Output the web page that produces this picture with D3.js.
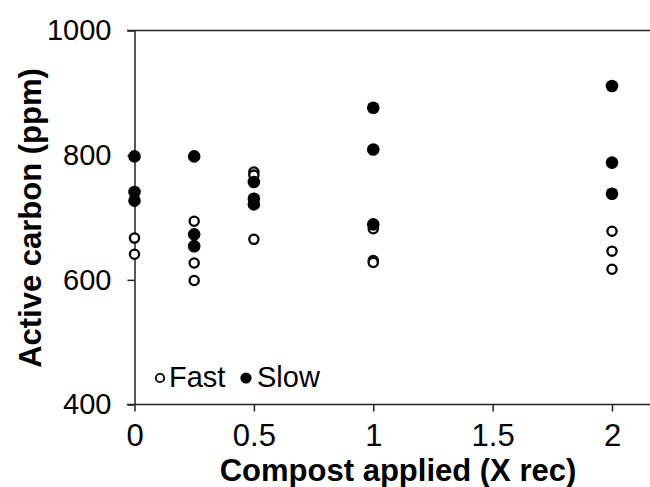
<!DOCTYPE html>
<html>
<head>
<meta charset="utf-8">
<script src="https://cdn.jsdelivr.net/npm/d3@7"></script>
<style>
  html, body { margin: 0; padding: 0; background: #fff; }
  svg { display: block; font-family: "Liberation Sans", Arial, Helvetica, sans-serif; }
</style>
</head>
<body>
<svg id="chart" width="650" height="487"></svg>
<script>
// ---- data ----
const fastDose = [0, 0, 0.25, 0.25, 0.25, 0.5, 0.5, 0.5, 1, 1, 1, 2, 2, 2];
const fastCarbon = [667, 641, 694, 627, 599, 773, 768, 665, 682, 631, 628, 678, 646, 617];
const slowDose = [0, 0, 0, 0.25, 0.25, 0.25, 0.5, 0.5, 0.5, 1, 1, 1, 2, 2, 2];
const slowCarbon = [798, 741, 727, 798, 673, 654, 757, 730, 721, 876, 809, 689, 911, 788, 738];
const xTicks = [0, 0.5, 1, 1.5, 2];
const yTicks = [400, 600, 800, 1000];
const seriesNames = ["Fast", "Slow"];

const svg = d3.select("#chart");
const x = d3.scaleLinear().domain([0, 2]).range([134.5, 612]);
const y = d3.scaleLinear().domain([400, 1000]).range([404.5, 30.5]);
const axisColor = "#222";

// top border line
svg.append("line")
  .attr("x1", 127).attr("x2", 650)
  .attr("y1", y(1000)).attr("y2", y(1000))
  .attr("stroke", axisColor).attr("stroke-width", 1.5);

// y axis
const yAxis = svg.append("g")
  .attr("transform", `translate(${x(0)},0)`)
  .call(d3.axisLeft(y).tickValues(yTicks).tickSize(7).tickSizeOuter(0).tickPadding(16).tickFormat(d3.format("d")));
yAxis.select(".domain").attr("stroke", axisColor).attr("stroke-width", 1.5);
yAxis.selectAll(".tick line").attr("stroke", axisColor).attr("stroke-width", 1.5);
yAxis.selectAll(".tick text")
  .attr("font-size", 29).attr("fill", "#000")
  .attr("font-family", "Liberation Sans, Arial, sans-serif");

// x axis
const xAxis = svg.append("g")
  .attr("transform", `translate(0,${y(400)})`)
  .call(d3.axisBottom(x).tickValues(xTicks).tickSize(7).tickSizeOuter(0).tickPadding(12).tickFormat(d => d3.format("")(d)));
xAxis.select(".domain").remove();
xAxis.insert("line", ":first-child")
  .attr("x1", 127).attr("x2", 650).attr("y1", 0).attr("y2", 0)
  .attr("stroke", axisColor).attr("stroke-width", 1.5);
xAxis.selectAll(".tick line").attr("stroke", axisColor).attr("stroke-width", 1.5);
xAxis.selectAll(".tick text")
  .attr("font-size", 31).attr("fill", "#000")
  .attr("font-family", "Liberation Sans, Arial, sans-serif");

// axis titles
svg.append("text")
  .attr("transform", `translate(41,${(30 + 404) / 2 + 1}) rotate(-90)`)
  .attr("text-anchor", "middle")
  .attr("font-size", 31).attr("font-weight", "bold")
  .text("Active carbon (ppm)");
svg.append("text")
  .attr("x", 398).attr("y", 481)
  .attr("text-anchor", "middle")
  .attr("font-size", 31).attr("font-weight", "bold")
  .text("Compost applied (X rec)");

// points
const fastData = fastDose.map((d, i) => ({ x: d, y: fastCarbon[i] }));
const slowData = slowDose.map((d, i) => ({ x: d, y: slowCarbon[i] }));

svg.append("g").selectAll("circle").data(fastData).join("circle")
  .attr("cx", d => x(d.x)).attr("cy", d => y(d.y)).attr("r", 4.6)
  .attr("fill", "#fff").attr("stroke", "#000").attr("stroke-width", 2.3);
svg.append("g").selectAll("circle").data(slowData).join("circle")
  .attr("cx", d => x(d.x)).attr("cy", d => y(d.y)).attr("r", 6.3)
  .attr("fill", "#000");

// legend
const leg = svg.append("g");
leg.append("circle").attr("cx", 160).attr("cy", 378).attr("r", 4.2).attr("fill", "#fff").attr("stroke", "#000").attr("stroke-width", 1.8);
leg.append("text").attr("x", 169).attr("y", 387).attr("font-size", 29).text(seriesNames[0]);
leg.append("circle").attr("cx", 246).attr("cy", 378).attr("r", 5.6).attr("fill", "#000");
leg.append("text").attr("x", 257).attr("y", 387).attr("font-size", 29).text(seriesNames[1]);
</script>
</body>
</html>
